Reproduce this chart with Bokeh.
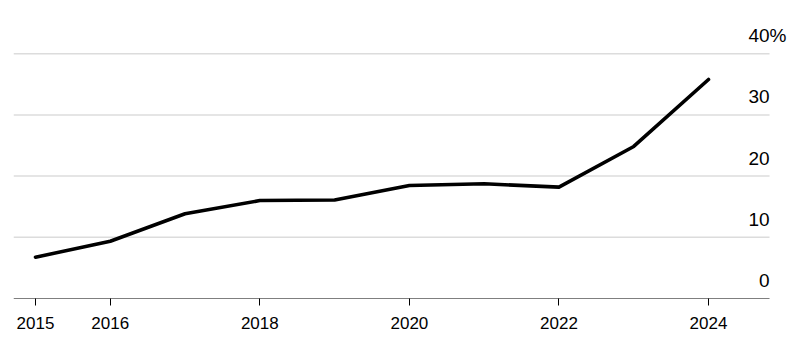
from bokeh.plotting import figure
from bokeh.models import Range1d, FixedTicker, Label
from bokeh.embed import file_html
from bokeh.resources import INLINE

years = [2015, 2016, 2017, 2018, 2019, 2020, 2021, 2022, 2023, 2024]
share = [6.75, 9.36, 13.84, 16.0, 16.1, 18.46, 18.74, 18.19, 24.84, 35.78]
x_ticks = [2015, 2016, 2018, 2020, 2022, 2024]
y_ticks = [0, 10, 20, 30, 40]
y_tick_labels = ["0", "10", "20", "30", "40"]
grid_ticks = [10, 20, 30, 40]

FONT = "Liberation Sans"

# frame spans the full width; rules stop at rule_end, labels hang right of it
px_per_year = 74.78
x_start = 2014.706
rule_end = 2024.816
x_end = x_start + 779 / px_per_year
y_start, y_end = 0, 45.42

p = figure(width=792, height=345, output_backend="svg", toolbar_location=None,
           x_range=Range1d(x_start, x_end), y_range=Range1d(y_start, y_end),
           y_axis_location=None,
           min_border_left=13, min_border_right=0, min_border_top=20, min_border_bottom=47)
p.outline_line_color = None
p.background_fill_color = "white"
p.border_fill_color = "white"
p.xgrid.visible = False
p.ygrid.visible = False

# horizontal gridlines
p.segment(x0=[x_start] * len(grid_ticks), y0=grid_ticks,
          x1=[rule_end] * len(grid_ticks), y1=grid_ticks,
          line_color="#dcdcdc", line_width=1.5)

ax = p.xaxis[0]
ax.ticker = FixedTicker(ticks=x_ticks)
ax.axis_line_color = None
ax.major_tick_line_color = "black"
ax.major_tick_out = 7
ax.major_tick_in = 0
ax.minor_tick_line_color = None
ax.major_label_standoff = 11
ax.major_label_text_font = FONT
ax.major_label_text_font_size = "17px"
ax.major_label_text_color = "black"

# baseline (x axis line)
p.segment(x0=[x_start], y0=[0], x1=[rule_end], y1=[0], line_color="black", line_width=1.2)

p.line(years, share, line_color="black", line_width=3.6,
       line_cap="round", line_join="round")

for yv, t in zip(y_ticks, y_tick_labels):
    p.add_layout(Label(x=rule_end, y=yv, text=t, text_align="right", text_baseline="alphabetic",
                       y_offset=18, text_font=FONT, text_font_size="19px", text_color="black"))
p.add_layout(Label(x=rule_end, y=y_ticks[-1], text="%", text_align="left", text_baseline="alphabetic",
                   y_offset=18, text_font=FONT, text_font_size="19px", text_color="black"))

open("out.html", "w").write(file_html(p, INLINE))
